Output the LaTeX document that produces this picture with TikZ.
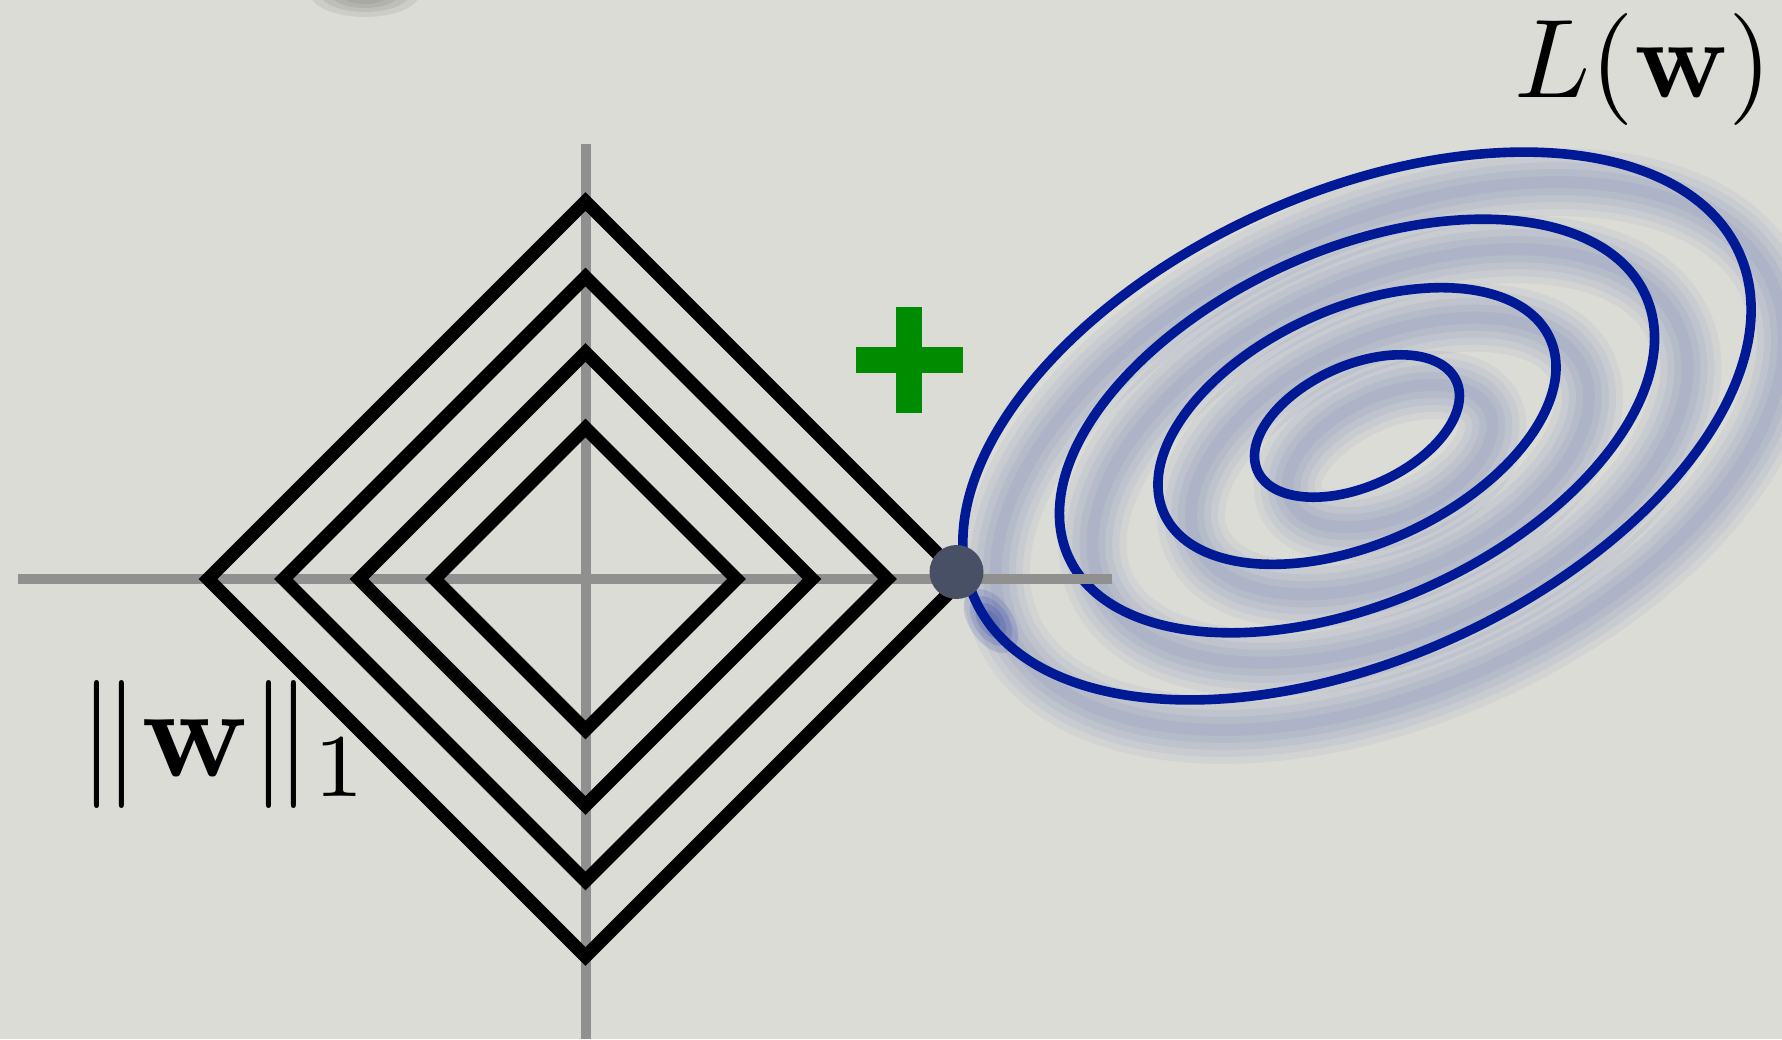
\documentclass[tikz,border=0pt]{standalone}
\definecolor{bg}{RGB}{220,220,214}
\definecolor{axisgray}{RGB}{144,144,144}
\definecolor{eblue}{RGB}{0,26,150}
\definecolor{dotgray}{RGB}{72,80,102}
\definecolor{plusgreen}{RGB}{0,140,0}
\begin{document}
\begin{tikzpicture}[x=0.5pt,y=0.5pt,
  axisline/.style={draw=axisgray,line width=5pt},
  diam/.style={draw=black,line width=6.6pt},
  contour/.style={draw=eblue,line width=4.8pt},
  shadowline/.style={draw=eblue,opacity=0.045},
  blob/.style={fill=black!70,opacity=0.1},
  label/.style={anchor=base west,inner sep=0pt}
]
\fill[bg] (0,0) rectangle (1782,1039);
\useasboundingbox (0,0) rectangle (1782,1039);
% blurred blob at top edge
\foreach \a/\b in {55/24,45/19,35/15,25/11,15/7}{
  \fill[blob] (365,1046) ellipse [x radius=\a, y radius=\b];
}
% centres of the contours and of their shadow
\coordinate (ec) at (1357,613);
\coordinate (es) at (1390,583);
% blurred shadow of the contours
\foreach \s in {1,0.755,0.505,0.26}{
  \foreach \w in {34,27,20,13,6}{
    \draw[shadowline,line width=\w pt,rotate around={24.4:(es)}] (es) ellipse [x radius={419.6*\s}, y radius={232.9*\s}];
  }
}
\foreach \r in {36,28,20,12}{
  \fill[eblue,opacity=0.13,rotate around={-55:(991,418)}] (991,418) ellipse [x radius={\r}, y radius={\r*0.6}];
}
% contours of L(w)
\foreach \s in {1,0.755,0.505,0.26}{
  \draw[contour,rotate around={24.4:(ec)}] (ec) ellipse [x radius={419.6*\s}, y radius={232.9*\s}];
}
% axes
\coordinate (o) at (586,460);
\coordinate (xl) at (18,460);
\coordinate (xr) at (1112,460);
\coordinate (yt) at (586,895);
\coordinate (yb) at (586,0);
\draw[axisline] (xl) -- (xr);
\draw[axisline] (yt) -- (yb);
% L1 diamonds
\foreach \r in {151,226.5,302,377.5}{
  \draw[diam] ({585.5-\r},460) -- (585.5,{460+\r}) -- ({585.5+\r},460) -- (585.5,{460-\r}) -- cycle;
}
% optimum point
\node[circle,fill=dotgray,minimum size=27pt,inner sep=0pt] (opt) at (956.5,467) {};
% green plus
\fill[plusgreen] (856,665.7) rectangle (962.7,692.3);
\fill[plusgreen] (896,625.7) rectangle (922.3,732.3);
% labels
\node[label,scale=5.6] (lw) at (1512,941) {$L(\mathbf{w})$};
\node[label,scale=6.4] (norm) at (75,262) {$\|\mathbf{w}\|_1$};
\end{tikzpicture}
\end{document}
